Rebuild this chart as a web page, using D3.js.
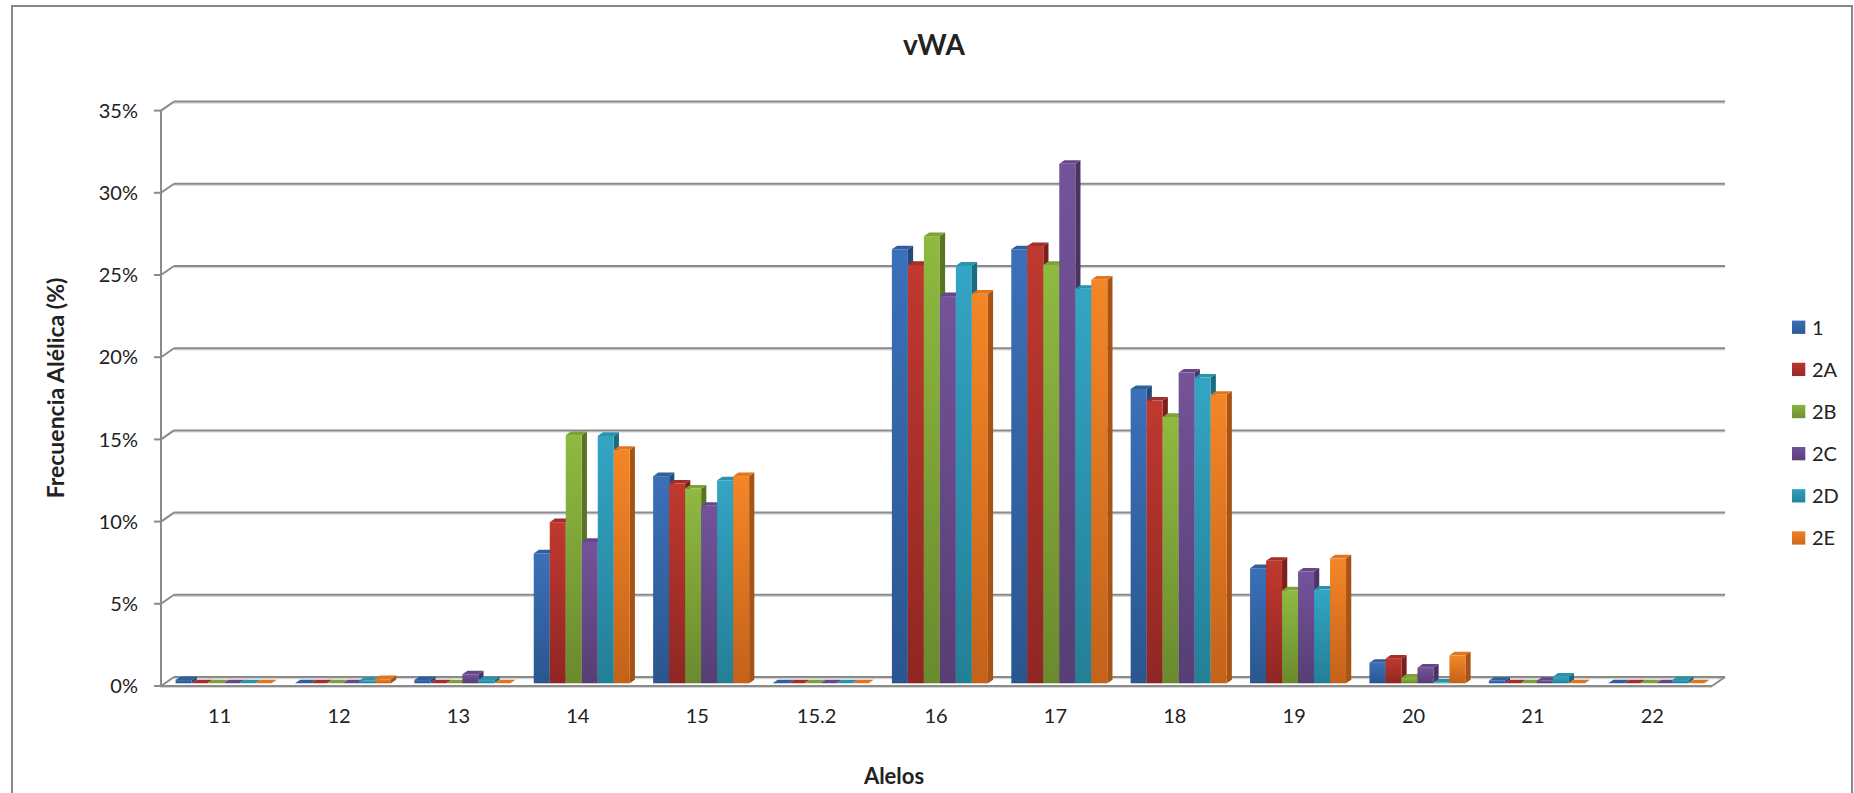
<!DOCTYPE html>
<html>
<head>
<meta charset="utf-8">
<script src="https://cdn.jsdelivr.net/npm/d3@7/dist/d3.min.js"></script>
<style>
  html, body { margin: 0; padding: 0; background: #ffffff; }
  svg { display: block; }
  text { font-family: Lato, "Open Sans", sans-serif; fill: #222; }
</style>
</head>
<body>
<svg id="chart" width="1854" height="793"></svg>
<script>
// ---------- data ----------
const categories = ["11","12","13","14","15","15.2","16","17","18","19","20","21","22"];
const seriesNames = ["1","2A","2B","2C","2D","2E"];
const serie1  = [0.20, 0.00, 0.20, 7.90, 12.60, 0.00, 26.40, 26.40, 17.90, 7.00, 1.25, 0.15, 0.00];
const serie2A = [0.00, 0.00, 0.00, 9.80, 12.15, 0.00, 25.45, 26.60, 17.20, 7.45, 1.50, 0.00, 0.00];
const serie2B = [0.00, 0.00, 0.00, 15.10, 11.85, 0.00, 27.20, 25.45, 16.20, 5.65, 0.35, 0.00, 0.00];
const serie2C = [0.00, 0.00, 0.55, 8.60, 10.80, 0.00, 23.55, 31.60, 18.90, 6.80, 0.95, 0.15, 0.00];
const serie2D = [0.00, 0.15, 0.20, 15.05, 12.35, 0.00, 25.40, 24.00, 18.60, 5.70, 0.05, 0.40, 0.20];
const serie2E = [0.00, 0.25, 0.00, 14.20, 12.60, 0.00, 23.70, 24.55, 17.55, 7.60, 1.70, 0.00, 0.00];
const seriesValues = [serie1, serie2A, serie2B, serie2C, serie2D, serie2E];
const yTicks = [0, 5, 10, 15, 20, 25, 30, 35];
const titleText = "vWA";
const yTitle = "Frecuencia Alélica (%)";
const xTitle = "Alelos";

// ---------- styles ----------
const palette = [
  {front:["#3b70b8","#2a568f"], side:"#244a7c", top:"#2f5f9c", legend:["#3a6db3","#2c5a94"]},
  {front:["#c0392f","#8f2623"], side:"#7a1f1d", top:"#a42e2b", legend:["#bd3530","#96292a"]},
  {front:["#8fba40","#6a8a2e"], side:"#5a7426", top:"#7ea23a", legend:["#8ab53f","#6e8f30"]},
  {front:["#74539a","#573e74"], side:"#4a3464", top:"#65478a", legend:["#70519a","#5a3f7a"]},
  {front:["#33a5c4","#237f96"], side:"#1c6a80", top:"#2a92ad", legend:["#32a0be","#25829a"]},
  {front:["#f48626","#c4621a"], side:"#a65315", top:"#e07620", legend:["#f08225","#cc681c"]}
];
const gridColor = "#8a8a8a";

const svg = d3.select("#chart");
const defs = svg.append("defs");
palette.forEach((p, i) => {
  const g = defs.append("linearGradient").attr("id", "gf" + i)
    .attr("x1", 0).attr("y1", 0).attr("x2", 0).attr("y2", 1);
  g.append("stop").attr("offset", "0%").attr("stop-color", p.front[0]);
  g.append("stop").attr("offset", "100%").attr("stop-color", p.front[1]);
  const h = defs.append("linearGradient").attr("id", "gl" + i)
    .attr("x1", 0).attr("y1", 0).attr("x2", 0).attr("y2", 1);
  h.append("stop").attr("offset", "0%").attr("stop-color", p.legend[0]);
  h.append("stop").attr("offset", "100%").attr("stop-color", p.legend[1]);
});

// ---------- geometry ----------
const floorLeft = 160, floorRight = 1712, floorFront = 686;
const depthX = 13, depthY = 9;           // full floor depth projection
const y = d3.scaleLinear().domain([0, 35]).range([floorFront, floorFront - 7 * 82.2]);
const x = d3.scaleBand().domain(categories).range([floorLeft, floorRight]).paddingInner(0).paddingOuter(0);
const groupWidth = 96;
const xs = d3.scaleBand().domain(seriesNames).range([0, groupWidth]).padding(0);
const barFrontF = 0.30, barDepthF = 0.40;
const off = f => [depthX * f, -depthY * f];

// outer border
svg.append("rect").attr("x", 12).attr("y", 6).attr("width", 1840).attr("height", 800)
  .attr("fill", "none").attr("stroke", "#878787").attr("stroke-width", 2);

// title
svg.append("text").attr("x", 934).attr("y", 55).attr("text-anchor", "middle")
  .style("font-weight", "bold").style("font-size", "28px").text(titleText);

// back gridlines
const axisX = floorLeft + 1;
const back = off(1);
const gridG = svg.append("g");
yTicks.forEach(t => {
  const yy = y(t);
  gridG.append("line").attr("x1", axisX + back[0]).attr("x2", floorRight + back[0])
    .attr("y1", yy + back[1] + 1.6).attr("y2", yy + back[1] + 1.6)
    .attr("stroke", "#d6d6d6").attr("stroke-width", 1.2);
  gridG.append("line").attr("x1", axisX + back[0]).attr("x2", floorRight + back[0])
    .attr("y1", yy + back[1]).attr("y2", yy + back[1])
    .attr("stroke", gridColor).attr("stroke-width", 2);
  gridG.append("line").attr("x1", axisX).attr("x2", axisX + back[0])
    .attr("y1", yy).attr("y2", yy + back[1])
    .attr("stroke", gridColor).attr("stroke-width", 2);
  gridG.append("line").attr("x1", axisX - 7).attr("x2", axisX)
    .attr("y1", yy).attr("y2", yy)
    .attr("stroke", gridColor).attr("stroke-width", 2);
  gridG.append("text").attr("x", 138).attr("y", yy).attr("dy", "0.36em")
    .attr("text-anchor", "end").style("font-size", "20px").text(t + "%");
});
gridG.append("line").attr("x1", axisX).attr("x2", axisX)
  .attr("y1", y(35)).attr("y2", floorFront)
  .attr("stroke", gridColor).attr("stroke-width", 2);

// floor front edge & right edge
gridG.append("line").attr("x1", floorLeft).attr("x2", floorRight)
  .attr("y1", floorFront + 1.5).attr("y2", floorFront + 1.5)
  .attr("stroke", "#d6d6d6").attr("stroke-width", 1.2);
gridG.append("line").attr("x1", floorLeft).attr("x2", floorRight)
  .attr("y1", floorFront).attr("y2", floorFront)
  .attr("stroke", gridColor).attr("stroke-width", 2);
gridG.append("line").attr("x1", floorRight).attr("x2", floorRight + back[0])
  .attr("y1", floorFront).attr("y2", floorFront + back[1])
  .attr("stroke", gridColor).attr("stroke-width", 2);

// bars
const barsG = svg.append("g");
const fo = off(barFrontF), dd = off(barDepthF);
const bw = xs.bandwidth();
categories.forEach((c, ci) => {
  const gx = x(c) + x.bandwidth() / 2 - groupWidth / 2 + fo[0];
  seriesNames.forEach((s, si) => {
    const v = seriesValues[si][ci];
    const x0 = gx + xs(s), x1 = x0 + bw;
    const yb = y(0) + fo[1], yt = y(v) + fo[1];
    const p = palette[si];
    const g = barsG.append("g");
    g.append("path").attr("d", `M${x1},${yt}L${x1 + dd[0]},${yt + dd[1]}L${x1 + dd[0]},${yb + dd[1]}L${x1},${yb}Z`)
      .attr("fill", p.side);
    g.append("path").attr("d", `M${x0},${yt}L${x0 + dd[0]},${yt + dd[1]}L${x1 + dd[0]},${yt + dd[1]}L${x1},${yt}Z`)
      .attr("fill", p.top);
    if (yb - yt > 0.01) {
      g.append("rect").attr("x", x0).attr("y", yt).attr("width", bw).attr("height", yb - yt)
        .attr("fill", `url(#gf${si})`);
    }
  });
});

// category labels
categories.forEach(c => {
  svg.append("text").attr("x", x(c) + x.bandwidth() / 2).attr("y", 716).attr("dy", "0.36em")
    .attr("text-anchor", "middle").style("font-size", "20px").text(c);
});

// axis titles
svg.append("text").attr("transform", "translate(56,388) rotate(-90)")
  .attr("text-anchor", "middle").attr("dy", "0.36em")
  .style("font-weight", "bold").style("font-size", "23px").text(yTitle);
svg.append("text").attr("x", 894).attr("y", 776).attr("dy", "0.36em")
  .attr("text-anchor", "middle").style("font-weight", "bold").style("font-size", "22px").text(xTitle);

// legend
const legendY = d3.scalePoint().domain(seriesNames).range([327.3, 538]);
seriesNames.forEach((s, si) => {
  const ly = legendY(s);
  svg.append("rect").attr("x", 1792).attr("y", ly - 6.7).attr("width", 13.3).attr("height", 13.3)
    .attr("fill", `url(#gl${si})`);
  svg.append("text").attr("x", 1812).attr("y", ly).attr("dy", "0.36em")
    .style("font-size", "20px").text(s);
});
</script>
</body>
</html>
